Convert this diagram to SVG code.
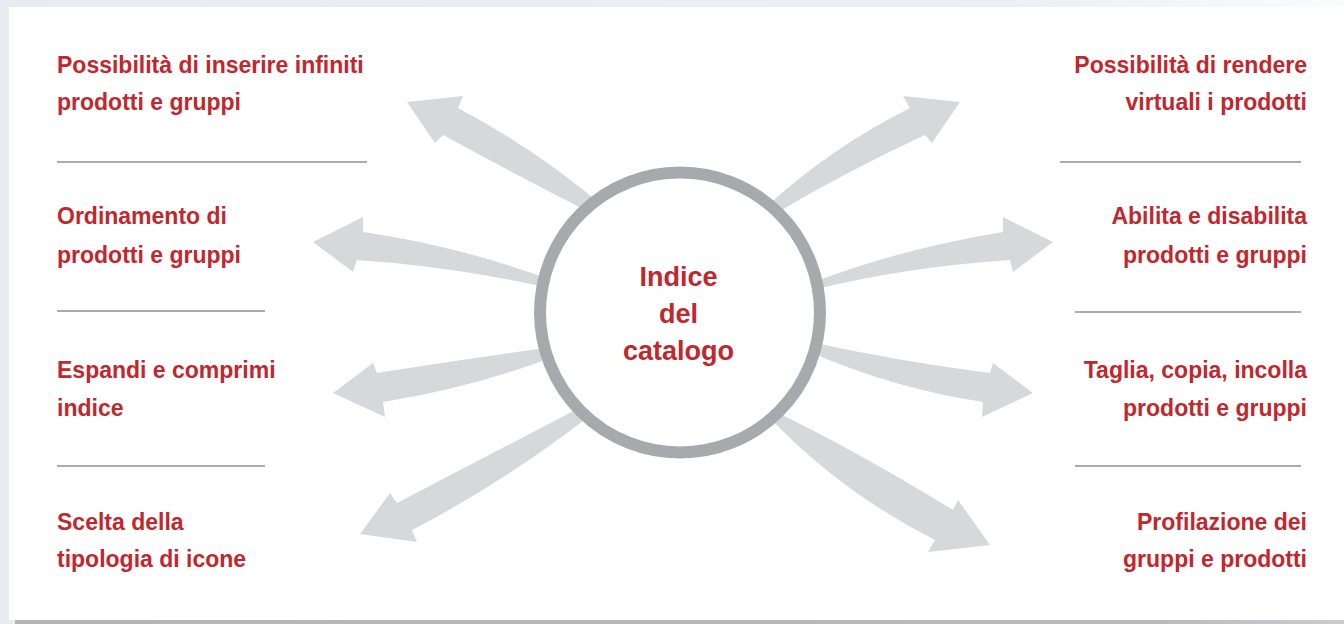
<svg xmlns="http://www.w3.org/2000/svg" width="1344" height="624" viewBox="0 0 1344 624">
<defs>
<linearGradient id="topg" x1="0" y1="0" x2="1" y2="0">
<stop offset="0" stop-color="#e8ecf1"/>
<stop offset="0.75" stop-color="#eceff3"/>
<stop offset="1" stop-color="#fafbfc"/>
</linearGradient>
<linearGradient id="botg" x1="0" y1="0" x2="1" y2="0">
<stop offset="0" stop-color="#b3b5b8"/>
<stop offset="0.85" stop-color="#b8babd"/>
<stop offset="1" stop-color="#cacbcd"/>
</linearGradient>
<style>
.lbl{font-family:"Liberation Sans",Arial,sans-serif;font-weight:bold;font-size:23px;fill:#c1272d}
.r{text-anchor:end}
.ctr{font-family:"Liberation Sans",Arial,sans-serif;font-weight:bold;font-size:27px;fill:#c1272d;text-anchor:middle}
.sep{stroke:#a9abae;stroke-width:2}
.arr{fill:#d7d8da}
</style>
</defs>
<rect x="0" y="0" width="1344" height="624" fill="#ffffff"/>
<rect x="0" y="0" width="1344" height="7" fill="url(#topg)"/>
<rect x="0" y="0" width="9" height="624" fill="#e9edf2"/>
<rect x="9" y="620" width="6" height="4" fill="#e9edf2"/>
<rect x="15" y="620" width="1329" height="4" fill="url(#botg)"/>

<g id="connectors">
<path class="arr" d="M597 216 Q522 178 443 135 L435 143 L407 102 L463 96 L458 108 Q537 150 604 207 Z"/>
<path class="arr" d="M550 288 Q450 266 357 260 L353 272 L313 242 L363 217 L363 232 Q455 245 552 280 Z"/>
<path class="arr" d="M553 347 Q463 359 377 373 L373 363 L333 393 L385 417 L383 402 Q472 388 553 357 Z"/>
<path class="arr" d="M585 405 Q491 454 397 503 L390 493 L360 534 L417 542 L412 530 Q505 482 592 414 Z"/>
<path class="arr" d="M767 206 Q832 147 910 108 L903 96 L960 102 L932 143 L925 135 Q847 171 773 215 Z"/>
<path class="arr" d="M811 283 Q900 249 1003 232 L1003 217 L1053 242 L1013 272 L1010 260 Q905 267 813 290 Z"/>
<path class="arr" d="M810 342 Q903 362 990 373 L993 363 L1033 393 L982 417 L983 402 Q892 388 810 352 Z"/>
<path class="arr" d="M772 410 Q855 450 953 510 L958 500 L990 545 L928 552 L935 540 Q840 492 768 416 Z"/>
</g>

<g id="center">
<circle cx="680" cy="312.5" r="140" fill="#ffffff" stroke="#a7aaad" stroke-width="12"/>
<text class="ctr" x="678.5" y="286">Indice</text>
<text class="ctr" x="678.5" y="323">del</text>
<text class="ctr" x="678.5" y="360">catalogo</text>
</g>

<g id="node-l1">
<text class="lbl" x="57" y="73">Possibilità di inserire infiniti</text>
<text class="lbl" x="57" y="110">prodotti e gruppi</text>
</g>
<g id="node-l2">
<text class="lbl" x="57" y="224">Ordinamento di</text>
<text class="lbl" x="57" y="263">prodotti e gruppi</text>
</g>
<g id="node-l3">
<text class="lbl" x="57" y="378">Espandi e comprimi</text>
<text class="lbl" x="57" y="416">indice</text>
</g>
<g id="node-l4">
<text class="lbl" x="57" y="530">Scelta della</text>
<text class="lbl" x="57" y="567">tipologia di icone</text>
</g>
<g id="node-r1">
<text class="lbl r" x="1307" y="73">Possibilità di rendere</text>
<text class="lbl r" x="1307" y="110">virtuali i prodotti</text>
</g>
<g id="node-r2">
<text class="lbl r" x="1307" y="224">Abilita e disabilita</text>
<text class="lbl r" x="1307" y="263">prodotti e gruppi</text>
</g>
<g id="node-r3">
<text class="lbl r" x="1307" y="378">Taglia, copia, incolla</text>
<text class="lbl r" x="1307" y="416">prodotti e gruppi</text>
</g>
<g id="node-r4">
<text class="lbl r" x="1307" y="530">Profilazione dei</text>
<text class="lbl r" x="1307" y="567">gruppi e prodotti</text>
</g>

<g id="separators">
<line class="sep" x1="57" y1="162" x2="367" y2="162"/>
<line class="sep" x1="57" y1="311" x2="265" y2="311"/>
<line class="sep" x1="57" y1="466" x2="265" y2="466"/>
<line class="sep" x1="1060" y1="162" x2="1301" y2="162"/>
<line class="sep" x1="1075" y1="312" x2="1301" y2="312"/>
<line class="sep" x1="1075" y1="466" x2="1301" y2="466"/>
</g>
</svg>
